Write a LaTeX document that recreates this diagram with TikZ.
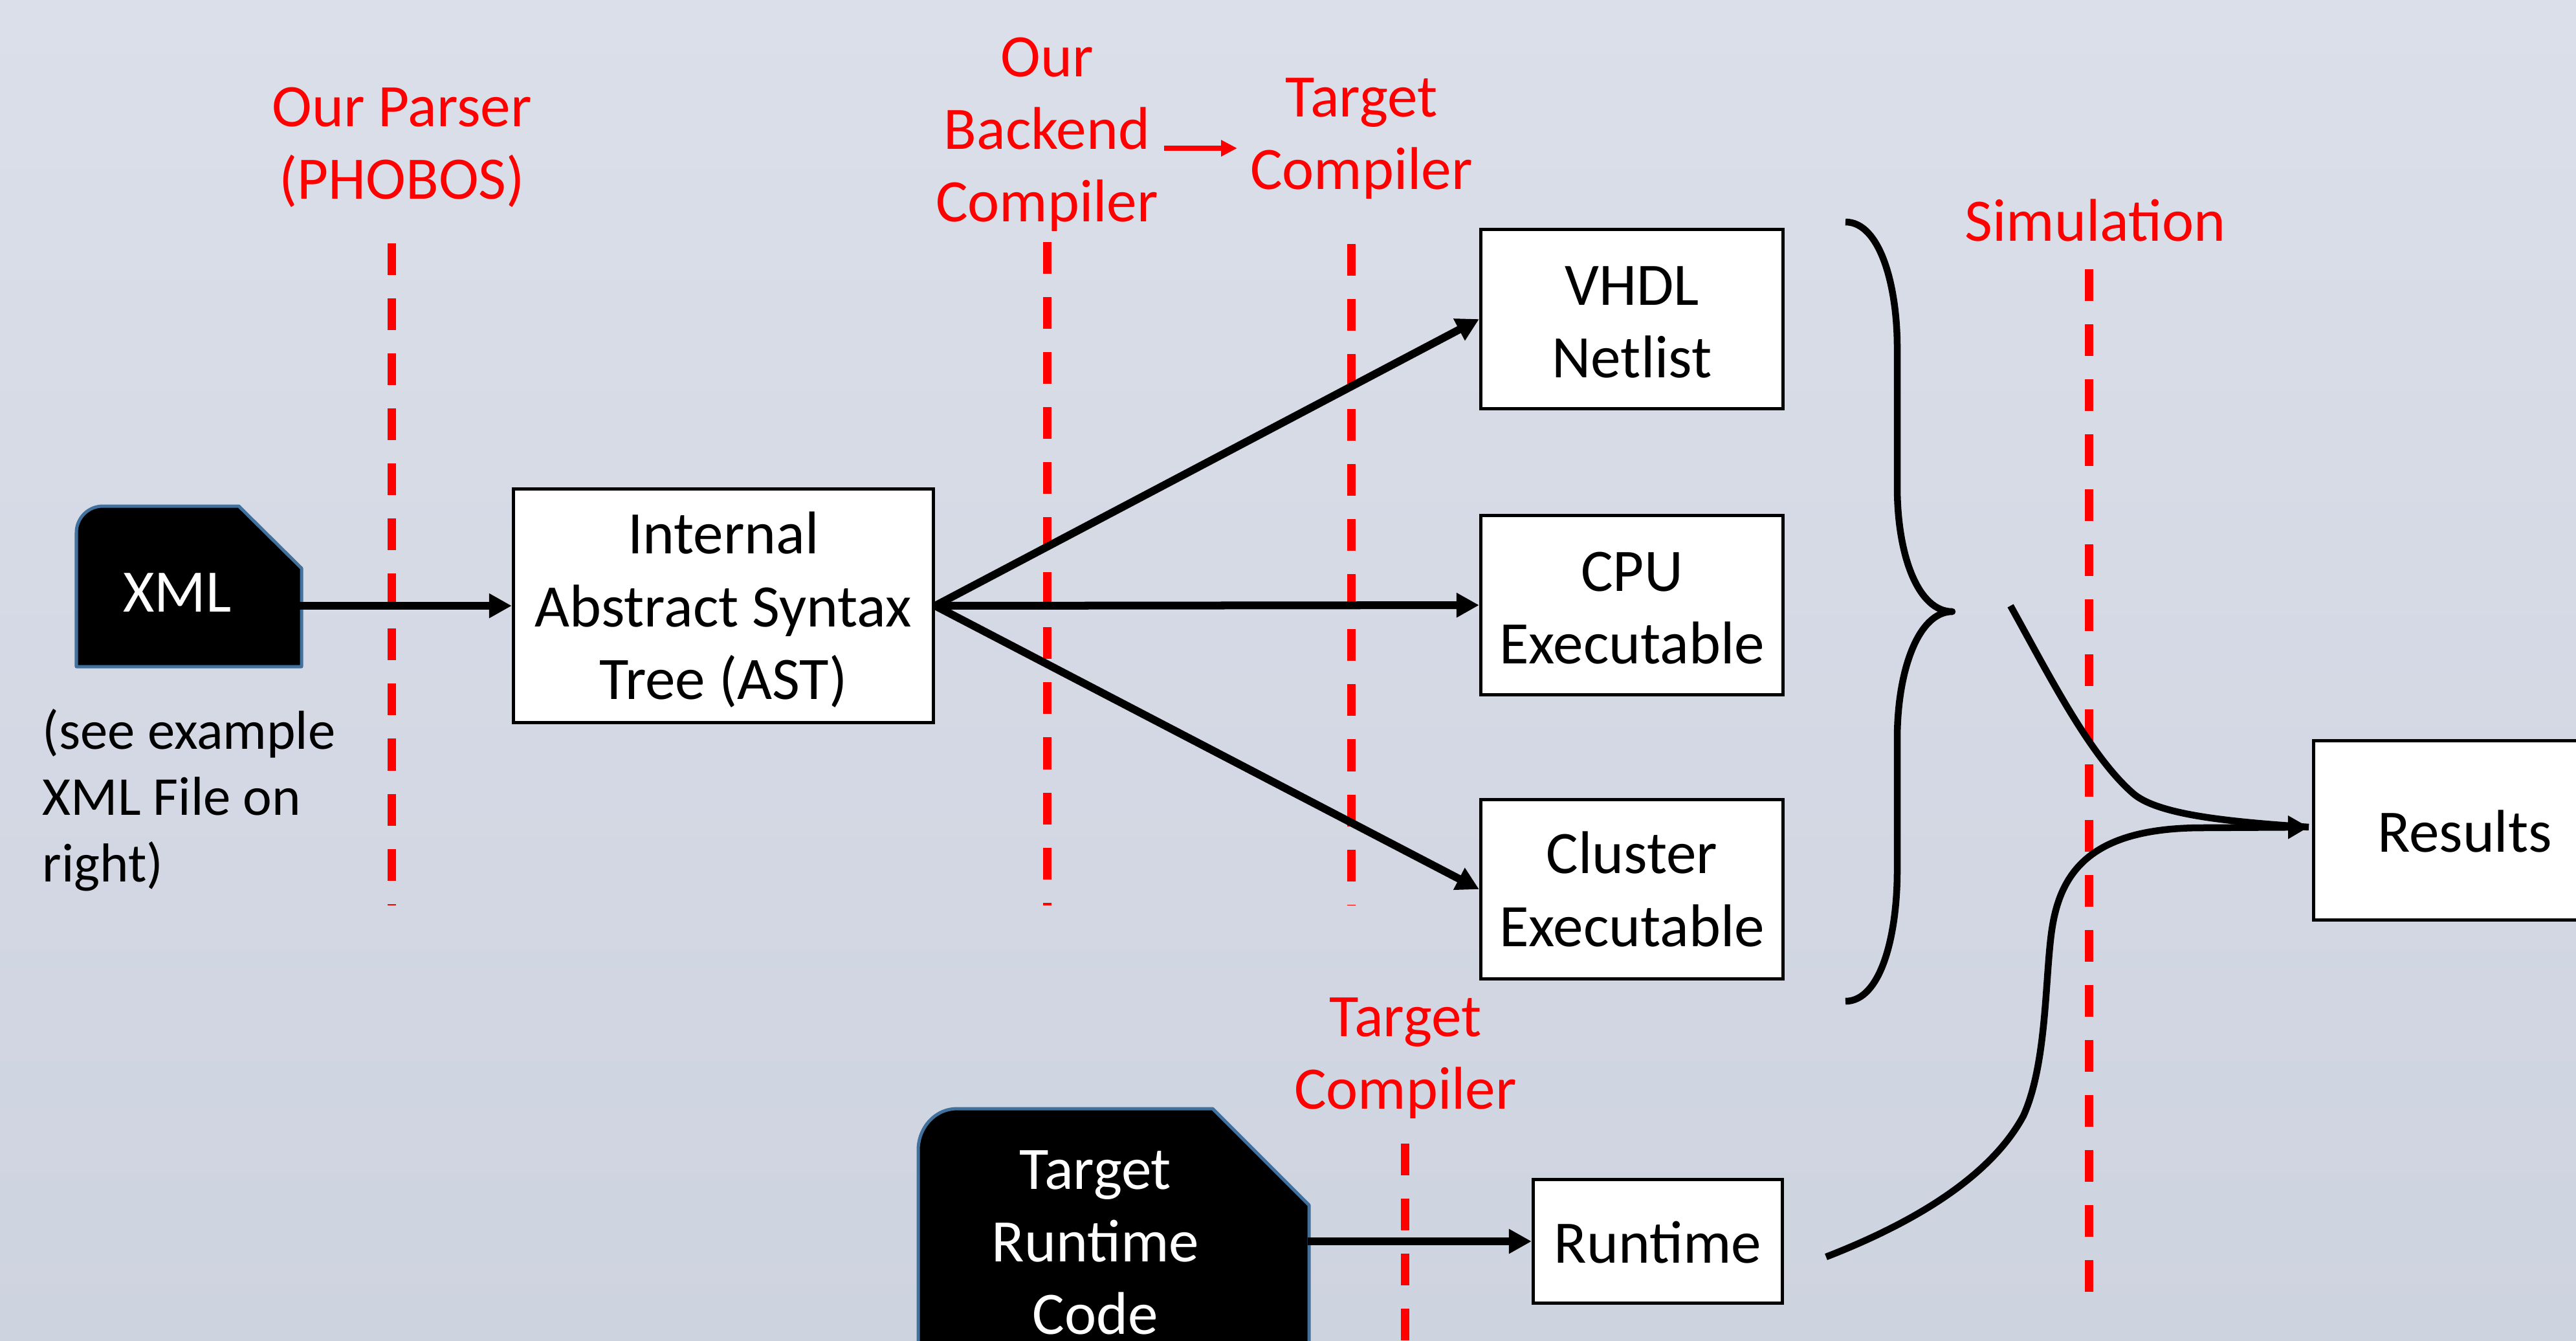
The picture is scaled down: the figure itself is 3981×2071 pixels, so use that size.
\documentclass[tikz,border=0pt]{standalone}
\usepackage{fontspec}
\setmainfont{Carlito}
\usetikzlibrary{arrows.meta}
\definecolor{bgtop}{RGB}{218,223,233}
\definecolor{bgbot}{RGB}{206,211,224}
\definecolor{shapeedge}{RGB}{65,113,156}
\definecolor{markred}{RGB}{255,0,0}
\newcommand\topgap[1]{\rule{0pt}{#1}}
\tikzset{
  px/.style={x=0.01cm,y=-0.01cm},
  bigtext/.style={font=\fontsize{26.5}{31.9}\selectfont,align=center,inner sep=0pt},
  redlabel/.style={bigtext,text=markred},
  whitelabel/.style={bigtext,text=white},
  smalllabel/.style={font=\fontsize{24.1}{29.2}\selectfont,align=left,inner sep=0pt},
  outbox/.style={bigtext,draw=black,fill=white,line width=0.05cm,minimum width=4.67cm,minimum height=2.77cm},
  docshape/.style={fill=black,draw=shapeedge,line width=0.05cm,line join=round},
  stage/.style={draw=markred,line width=0.13cm,dash pattern=on 0.49cm off 0.36cm},
  flow/.style={draw=black,line width=0.12cm,-{Triangle[length=0.35cm,width=0.36cm]}},
  curveline/.style={draw=black,line width=0.105cm},
  tipped/.style={curveline,-{Triangle[length=0.32cm,width=0.34cm]}},
  redflow/.style={draw=markred,line width=0.08cm,-{Triangle[length=0.25cm,width=0.24cm]}}
}
\begin{document}
\begin{tikzpicture}[px]
\useasboundingbox (0,0) rectangle (3981,2071);
\clip (0,0) rectangle (3981,2071);
\shade[top color=bgtop,bottom color=bgbot] (0,0) rectangle (3981,2071);

% stage lines
\coordinate (s1a) at (605,376); \coordinate (s1b) at (605,1399);
\coordinate (s2a) at (1618,374); \coordinate (s2b) at (1618,1399);
\coordinate (s3a) at (2088,377); \coordinate (s3b) at (2088,1399);
\coordinate (s4a) at (3228,416); \coordinate (s4b) at (3228,2000);
\coordinate (s5a) at (2171,1767); \coordinate (s5b) at (2171,2090);
\draw[stage] (s1a) -- (s1b);
\draw[stage] (s2a) -- (s2b);
\draw[stage] (s3a) -- (s3b);
\draw[stage] (s4a) -- (s4b);
\draw[stage] (s5a) -- (s5b);

% document shapes
\draw[docshape] (118,1030) -- (118,823) to[out=90,in=180] (159,782) -- (369,782) -- (466,878) -- (466,1030) -- cycle;
\node[whitelabel] (xml) at (274,916) {XML};
\coordinate (xmlr) at (462,936);
\draw[docshape] (1419,2100) -- (1419,1777) to[out=90,in=180] (1479,1713) -- (1874,1713) -- (2023,1862) -- (2023,2100) -- cycle;
\node[whitelabel] (trc) at (1693,1920) {Target\\Runtime\\Code};
\coordinate (trcr) at (2021,1918);

% boxes
\node[outbox,minimum width=6.49cm,minimum height=3.6cm] (ast) at (1118,936) {\topgap{0.77cm}Internal\\Abstract Syntax\\Tree (AST)};
\node[outbox] (vhdl) at (2522,493) {\topgap{0.7cm}VHDL\\Netlist};
\node[outbox] (cpu) at (2522,935) {\topgap{0.7cm}CPU\\Executable};
\node[outbox] (cluster) at (2522,1374) {Cluster\\Executable};
\node[outbox] (results) at (3809,1283) {\topgap{0.68cm}Results};
\node[outbox,minimum width=3.85cm,minimum height=1.91cm] (runtime) at (2562,1918) {\topgap{0.68cm}Runtime};
\coordinate (rtip) at (3568,1278);

% flows
\draw[flow] (xmlr) -- (ast.west);
\draw[flow] (trcr) -- (runtime.west);
\draw[flow] (ast.east) -- (vhdl.west);
\draw[flow] (ast.east) -- (cpu.west);
\draw[flow] (ast.east) -- (cluster.west);

% brace
\coordinate (bt) at (2852,343); \coordinate (bb) at (2852,1547); \coordinate (bm) at (3017,945);
\draw[curveline,line join=round] (bt) .. controls (2905,343) and (2932,440) .. (2932,537) -- (2932,752) .. controls (2932,860) and (2965,945) .. (bm) .. controls (2965,945) and (2932,1035) .. (2932,1142) -- (2932,1345) .. controls (2932,1450) and (2905,1547) .. (bb);

% curves to results
\coordinate (c1) at (3107,936); \coordinate (c2) at (2822,1942);
\draw[curveline] (c1) .. controls (3165,1040) and (3230,1170) .. (3299,1228) .. controls (3340,1260) and (3450,1270) .. (rtip);
\draw[tipped] (c2) .. controls (2930,1900) and (3070,1830) .. (3127,1724) .. controls (3165,1640) and (3160,1500) .. (3172,1430) .. controls (3187,1340) and (3240,1280) .. (3400,1279) -- (rtip);

% red labels
\node[redlabel] (lparser) at (621,228) {Our Parser\\(PHOBOS)};
\node[redlabel] (lback) at (1618,208) {Our\\Backend\\Compiler};
\node[redlabel] (ltarget) at (2104,214) {Target\\Compiler};
\node[redlabel] (lsim) at (3238,340) {Simulation};
\node[redlabel] (ltarget2) at (2172,1635) {Target\\Compiler};
\draw[redflow] (1799,229) -- (1912,229);

\node[smalllabel,anchor=west] (note) at (65,1236) {(see example\\XML File on\\right)};
\end{tikzpicture}
\end{document}
